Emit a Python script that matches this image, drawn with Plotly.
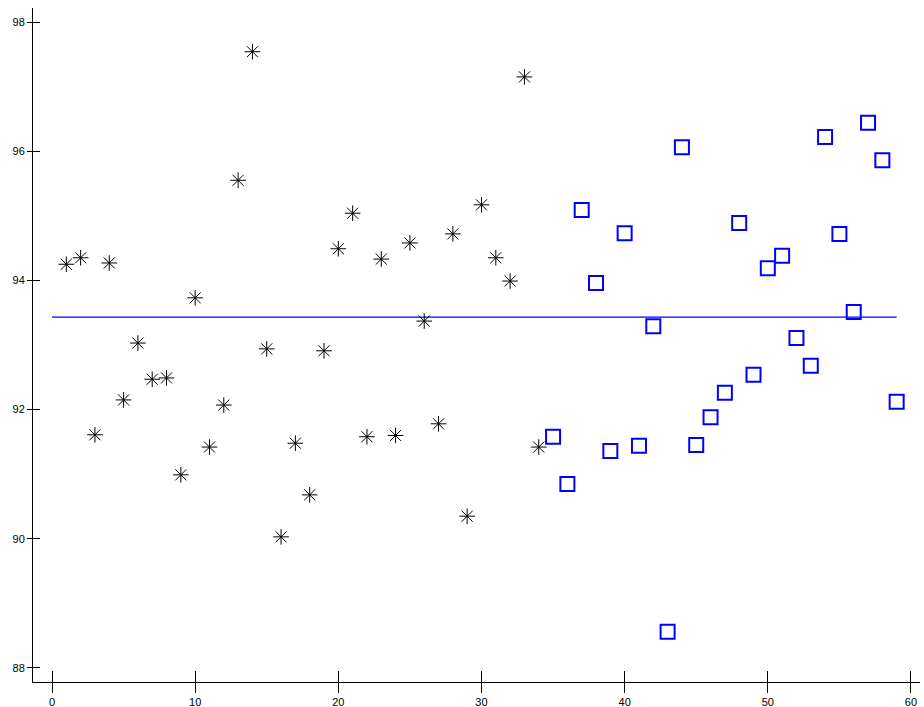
import plotly.graph_objects as go

star_x = list(range(1, 35))
star_y = [94.25, 94.35, 91.61, 94.27, 92.15, 93.03, 92.47, 92.49, 90.99, 93.73,
          91.42, 92.07, 95.55, 97.54, 92.94, 90.03, 91.48, 90.68, 92.91, 94.49,
          95.04, 91.58, 94.33, 91.60, 94.58, 93.37, 91.78, 94.72, 90.35, 95.17,
          94.35, 93.99, 97.15, 91.42]

square_x = list(range(35, 60))
square_y = [91.58, 90.85, 95.09, 93.96, 91.36, 94.73, 91.44, 93.29, 88.56, 96.06,
            91.45, 91.88, 92.26, 94.89, 92.54, 94.19, 94.38, 93.11, 92.68, 96.22,
            94.72, 93.51, 96.44, 95.86, 92.12]

line_x = [0, 59]
line_y = [93.43, 93.43]

x_ticks = [0, 10, 20, 30, 40, 50, 60]
y_ticks = [88, 90, 92, 94, 96, 98]

BLUE = "#0000FF"
font = dict(family="Liberation Sans, Arial, sans-serif", size=11, color="black")

fig = go.Figure()
fig.add_trace(go.Scatter(x=line_x, y=line_y, mode="lines",
                         line=dict(color=BLUE, width=1.3), showlegend=False, hoverinfo="skip"))
fig.add_trace(go.Scatter(x=star_x, y=star_y, mode="markers",
                         marker=dict(symbol="asterisk-open", size=13,
                                     line=dict(color="black", width=1), color="black"),
                         showlegend=False))
fig.add_trace(go.Scatter(x=square_x, y=square_y, mode="markers",
                         marker=dict(symbol="square-open", size=14,
                                     line=dict(color=BLUE, width=2), color=BLUE),
                         showlegend=False))

xr = [-1.327, 60.63]
yr = [87.783, 98.217]

fig.update_layout(
    width=924, height=707,
    margin=dict(l=33, r=4, t=8, b=25, autoexpand=False),
    paper_bgcolor="white", plot_bgcolor="white",
    font=font,
    xaxis=dict(range=xr, tickvals=x_ticks, showgrid=False, zeroline=False,
               showline=True, linecolor="black", linewidth=1, automargin=False,
               ticks="outside", ticklen=10, tickwidth=1, tickcolor="black",
               tickfont=font),
    yaxis=dict(range=yr, tickvals=y_ticks, showgrid=False, zeroline=False,
               showline=True, linecolor="black", linewidth=1, automargin=False,
               ticks="outside", ticklen=5, tickwidth=1, tickcolor="black",
               tickfont=font),
    xaxis2=dict(range=xr, tickvals=x_ticks, overlaying="x", anchor="y",
                showgrid=False, zeroline=False, showline=False, automargin=False,
                ticks="inside", ticklen=11, tickwidth=1, tickcolor="black",
                showticklabels=False, side="bottom"),
    yaxis2=dict(range=yr, tickvals=y_ticks, overlaying="y", anchor="x",
                showgrid=False, zeroline=False, showline=False, automargin=False,
                ticks="inside", ticklen=7, tickwidth=1, tickcolor="black",
                showticklabels=False, side="left"),
)
fig.add_trace(go.Scatter(x=[None], y=[None], xaxis="x2", yaxis="y2",
                         showlegend=False, hoverinfo="skip"))

fig.write_html("out.html", config={"displayModeBar": False},
               post_script="document.body.style.margin='0';document.body.style.overflow='hidden';")
